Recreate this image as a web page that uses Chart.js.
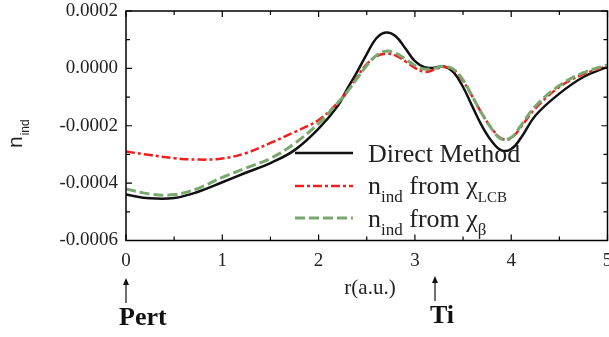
<!DOCTYPE html>
<html><head><meta charset="utf-8">
<script src="https://cdn.jsdelivr.net/npm/chart.js@4/dist/chart.umd.min.js"></script>
<style>html,body{margin:0;padding:0;background:#fff;}#wrap{width:609px;height:337px;}</style>
</head><body><div id="wrap"><canvas id="c" width="609" height="337"></canvas></div>
<script>
const rValues = [0,0.25,0.5,0.75,1,1.25,1.5,1.75,2,2.2,2.3,2.4,2.5,2.6,2.7,2.8,2.9,3.0,3.1,3.2,3.3,3.4,3.5,3.6,3.7,3.8,3.9,4.0,4.1,4.25,4.5,4.75,5];
const directMethod = [-0.00044,-0.000453,-0.000452,-0.00043,-0.000397,-0.000363,-0.00033,-0.000285,-0.00021,-0.00013,-0.00007,-0.000012,0.00005,0.000105,0.000125,0.000112,0.00007,0.000025,0.000004,0.000002,0.000007,-0.000013,-0.000065,-0.000135,-0.000203,-0.000255,-0.000286,-0.000281,-0.000243,-0.000165,-0.000088,-0.00003,0.000005];
const fromChiLCB = [-0.00029,-0.000302,-0.000313,-0.000318,-0.000314,-0.000295,-0.00026,-0.000222,-0.00018,-0.00012,-0.00008,-0.00003,0.000015,0.000042,0.000051,0.000045,0.000025,0.000002,-0.000012,-0.000005,0.000005,-0.000005,-0.000045,-0.0001,-0.00016,-0.00021,-0.000245,-0.000243,-0.000205,-0.00014,-0.000065,-0.00002,0.000008];
const fromChiBeta = [-0.00042,-0.000438,-0.00044,-0.000418,-0.00038,-0.000347,-0.000314,-0.000262,-0.000192,-0.00012,-0.00008,-0.000035,0.00001,0.000045,0.00006,0.000053,0.000033,0.00001,-0.000002,0,0.000007,-0.000003,-0.00004,-0.0001,-0.00016,-0.000212,-0.000247,-0.000241,-0.0002,-0.000132,-0.00006,-0.000015,0.000012];
const xTickValues = [0,1,2,3,4,5];
const yTickValues = [-0.0006,-0.0004,-0.0002,0,0.0002];
const seriesNames = ['Direct Method','n_ind from χ_LCB','n_ind from χ_β'];

const BLACK='#111111', RED='#f01e1e', GREEN='#79a86f';
const SERIF='"Liberation Serif","Times New Roman",serif';
const SANS='"Liberation Sans",Arial,sans-serif';

function pts(ys){return rValues.map((x,i)=>({x:x,y:ys[i]}));}

const decor = {
  id:'decor',
  afterDraw(chart){
    const ctx=chart.ctx, a=chart.chartArea, xs=chart.scales.x, ys=chart.scales.y;
    ctx.save();
    ctx.strokeStyle='#000'; ctx.lineWidth=1.5;
    ctx.strokeRect(a.left,a.top,a.right-a.left,a.bottom-a.top);
    ctx.lineWidth=1.2;
    ctx.beginPath();
    for(let i=0;i<xTickValues.length;i++){
      const v=xTickValues[i]; const p=xs.getPixelForValue(v);
      ctx.moveTo(p,a.bottom);ctx.lineTo(p,a.bottom-6);
      ctx.moveTo(p,a.top);ctx.lineTo(p,a.top+6);
      if(i<xTickValues.length-1){
        const m=xs.getPixelForValue((v+xTickValues[i+1])/2);
        ctx.moveTo(m,a.bottom);ctx.lineTo(m,a.bottom-4);
        ctx.moveTo(m,a.top);ctx.lineTo(m,a.top+4);
      }
    }
    for(let i=0;i<yTickValues.length;i++){
      const v=yTickValues[i]; const p=ys.getPixelForValue(v);
      ctx.moveTo(a.left,p);ctx.lineTo(a.left+6,p);
      ctx.moveTo(a.right,p);ctx.lineTo(a.right-6,p);
      if(i<yTickValues.length-1){
        const m=ys.getPixelForValue((v+yTickValues[i+1])/2);
        ctx.moveTo(a.left,m);ctx.lineTo(a.left+4,m);
        ctx.moveTo(a.right,m);ctx.lineTo(a.right-4,m);
      }
    }
    ctx.stroke();

    const rows=[
      {color:BLACK,dash:[],w:2.5,y:153,text:[['Direct Method',26,0]]},
      {color:RED,dash:[9,3,3,3],w:2.5,y:186,text:[['n',26,0],['ind',17,8],[' from ',26,0],['χ',26,0],['LCB',15,8]]},
      {color:GREEN,dash:[10,4],w:3,y:218,text:[['n',26,0],['ind',17,8],[' from ',26,0],['χ',26,0],['β',17,8]]}
    ];
    const baselines=[162,194,227];
    rows.forEach((r,i)=>{
      ctx.save();
      ctx.strokeStyle=r.color; ctx.lineWidth=r.w; ctx.setLineDash(r.dash);
      ctx.beginPath(); ctx.moveTo(295,r.y); ctx.lineTo(353,r.y); ctx.stroke();
      ctx.restore();
      let x=368;
      ctx.fillStyle='#222'; ctx.textBaseline='alphabetic'; ctx.textAlign='left';
      r.text.forEach(t=>{
        ctx.font=t[1]+'px '+SERIF;
        ctx.fillText(t[0],x,baselines[i]+t[2]);
        x+=ctx.measureText(t[0]).width;
      });
    });

    ctx.save();
    ctx.translate(22,148); ctx.rotate(-Math.PI/2);
    ctx.fillStyle='#222'; ctx.textAlign='left'; ctx.textBaseline='alphabetic';
    ctx.font='21px '+SANS; ctx.fillText('n',0,0);
    const nw=ctx.measureText('n').width;
    ctx.font='12px '+SANS; ctx.fillText('ind',nw+1,7);
    ctx.restore();

    ctx.fillStyle='#222'; ctx.textAlign='center'; ctx.textBaseline='alphabetic';
    ctx.font='21px '+SERIF; ctx.fillText('r(a.u.)',370,294);

    function arrow(x,y1,y2){
      ctx.strokeStyle='#111'; ctx.lineWidth=1.2; ctx.setLineDash([]);
      ctx.beginPath(); ctx.moveTo(x,y2); ctx.lineTo(x,y1+5); ctx.stroke();
      ctx.fillStyle='#111'; ctx.beginPath();
      ctx.moveTo(x,y1); ctx.lineTo(x-3,y1+7); ctx.lineTo(x+3,y1+7); ctx.closePath(); ctx.fill();
    }
    arrow(126,278,303);
    arrow(435,276,301);
    ctx.fillStyle='#111'; ctx.textAlign='left';
    ctx.font='bold 26px '+SERIF;
    ctx.fillText('Pert',119,325);
    ctx.fillText('Ti',430,323);
    ctx.restore();
  }
};

new Chart(document.getElementById('c'),{
  type:'line',
  data:{datasets:[
    {label:seriesNames[0],data:pts(directMethod),borderColor:BLACK,borderWidth:2.5,pointRadius:0,tension:0.4,order:3},
    {label:seriesNames[1],data:pts(fromChiLCB),borderColor:RED,borderWidth:2.5,borderDash:[9,3,3,3],pointRadius:0,tension:0.4,order:2},
    {label:seriesNames[2],data:pts(fromChiBeta),borderColor:GREEN,borderWidth:3,borderDash:[10,4],pointRadius:0,tension:0.4,order:1}
  ]},
  options:{
    responsive:false,animation:false,devicePixelRatio:1,
    layout:{padding:{left:0,right:1.5,top:11,bottom:0}},
    plugins:{legend:{display:false},tooltip:{enabled:false}},
    scales:{
      x:{type:'linear',min:0,max:5,
        afterBuildTicks:s=>{s.ticks=xTickValues.map(v=>({value:v}));},
        afterFit:s=>{s.height=96.5;s.paddingLeft=0;s.paddingRight=0;},
        grid:{display:false,drawTicks:false},border:{display:false},
        ticks:{padding:9,color:'#222',font:{family:SERIF,size:19},maxRotation:0,autoSkip:false,callback:v=>String(v)}},
      y:{type:'linear',min:-0.0006,max:0.0002,
        afterBuildTicks:s=>{s.ticks=yTickValues.map(v=>({value:v}));},
        afterFit:s=>{s.width=126;s.paddingTop=0;s.paddingBottom=0;},
        grid:{display:false,drawTicks:false},border:{display:false},
        ticks:{padding:8,color:'#222',font:{family:SERIF,size:19},autoSkip:false,callback:v=>Number(v).toFixed(4)}}
    }
  },
  plugins:[decor]
});
</script></body></html>
